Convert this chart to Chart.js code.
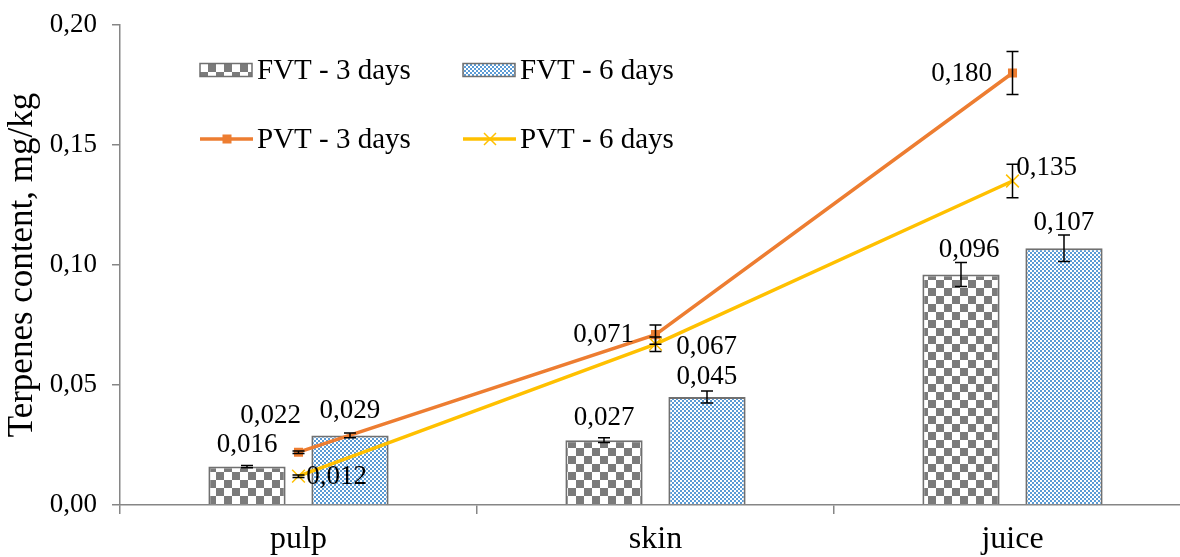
<!DOCTYPE html>
<html><head><meta charset="utf-8">
<script src="https://cdn.jsdelivr.net/npm/chart.js@4"></script>
<style>html,body{margin:0;padding:0;overflow:hidden;background:#fff;width:1180px;height:557px}#wrap{width:1180px;height:557px;overflow:hidden;position:relative}canvas{display:block}</style>
</head><body>
<div id="wrap"><canvas id="c" width="1191" height="557"></canvas></div>
<script>
const categories = ['pulp', 'skin', 'juice'];
const fvt3 = [0.016, 0.027, 0.096];
const fvt6 = [0.029, 0.045, 0.107];
const pvt3 = [0.022, 0.071, 0.180];
const pvt6 = [0.012, 0.067, 0.135];
const fvt3Err = [0.0005, 0.001, 0.005];
const fvt6Err = [0.001, 0.0025, 0.0055];
const pvt3Err = [0.0005, 0.004, 0.009];
const pvt6Err = [0.0005, 0.003, 0.007];
const yTicks = [0, 0.05, 0.10, 0.15, 0.20];
const seriesNames = ['FVT - 3 days', 'FVT - 6 days', 'PVT - 3 days', 'PVT - 6 days'];

const SERIF = '"Liberation Serif", "Times New Roman", serif';
const GREY = '#868686';

function tile(size, draw) { const c = document.createElement('canvas'); c.width = c.height = size; draw(c.getContext('2d')); return c; }
const canvas = document.getElementById('c');
const ctx0 = canvas.getContext('2d');
const greyPat = ctx0.createPattern(tile(16, g => { g.fillStyle = '#fff'; g.fillRect(0, 0, 16, 16); g.fillStyle = '#7b7b7b'; g.fillRect(0, 0, 8, 8); g.fillRect(8, 8, 8, 8); }), 'repeat');
const bluePat = ctx0.createPattern(tile(4, g => { g.fillStyle = '#5b9bd5'; g.fillRect(0, 0, 4, 4); g.fillStyle = '#fff'; g.fillRect(0, 0, 2, 2); g.fillRect(2, 2, 2, 2); }), 'repeat');

const fmt3 = v => v.toFixed(3).replace('.', ',');
const fmt2 = v => v.toFixed(2).replace('.', ',');

function drawMarker(ctx, style, x, y, color) {
  ctx.save();
  if (style === 'rect') { ctx.fillStyle = color; ctx.fillRect(x - 4.5, y - 4.5, 9, 9); }
  else { ctx.strokeStyle = color; ctx.lineWidth = 1.5; const r = 6; ctx.beginPath(); ctx.moveTo(x - r, y - r); ctx.lineTo(x + r, y + r); ctx.moveTo(x + r, y - r); ctx.lineTo(x - r, y + r); ctx.stroke(); }
  ctx.restore();
}

const errorBars = {
  id: 'errorBars',
  afterDatasetsDraw(chart) {
    const { ctx } = chart; const ys = chart.scales.y;
    ctx.save(); ctx.strokeStyle = '#000'; ctx.lineWidth = 1.5;
    chart.data.datasets.forEach((ds, di) => {
      const meta = chart.getDatasetMeta(di);
      ds.errors.forEach((e, i) => {
        const el = meta.data[i]; const v = ds.data[i];
        const t = ys.getPixelForValue(v + e), b = ys.getPixelForValue(v - e), x = el.x;
        ctx.beginPath();
        ctx.moveTo(x, t); ctx.lineTo(x, b);
        ctx.moveTo(x - 6, t); ctx.lineTo(x + 6, t);
        ctx.moveTo(x - 6, b); ctx.lineTo(x + 6, b);
        ctx.stroke();
      });
    });
    ctx.restore();
  }
};

const valueLabels = {
  id: 'valueLabels',
  afterDatasetsDraw(chart) {
    const { ctx } = chart;
    ctx.save(); ctx.font = '27px ' + SERIF; ctx.fillStyle = '#000'; ctx.textAlign = 'center'; ctx.textBaseline = 'middle';
    chart.data.datasets.forEach((ds, di) => {
      const meta = chart.getDatasetMeta(di);
      ds.data.forEach((v, i) => {
        const el = meta.data[i]; const o = ds.labelOffset[i];
        ctx.fillText(fmt3(v), el.x + o[0], el.y + o[1]);
      });
    });
    ctx.restore();
  }
};

const customLegend = {
  id: 'customLegend',
  afterDraw(chart) {
    const { ctx, chartArea } = chart;
    const L = chartArea.left, T = chartArea.top;
    const cols = [L + 80, L + 343], rows = [T + 45, T + 114];
    ctx.save(); ctx.font = '29px ' + SERIF; ctx.fillStyle = '#000'; ctx.textBaseline = 'middle'; ctx.textAlign = 'left';
    chart.data.datasets.forEach((ds, di) => {
      const x = cols[di % 2], y = rows[Math.floor(di / 2)];
      if (ds.type === 'line') {
        ctx.strokeStyle = ds.borderColor; ctx.lineWidth = 3.5;
        ctx.beginPath(); ctx.moveTo(x, y); ctx.lineTo(x + 53, y); ctx.stroke();
        drawMarker(ctx, ds.pointStyle, x + 27, y, ds.borderColor);
      } else {
        ctx.fillStyle = ds.backgroundColor; ctx.fillRect(x, y - 6.5, 52, 13);
        ctx.strokeStyle = ds.borderColor; ctx.lineWidth = 1.5; ctx.strokeRect(x, y - 6.5, 52, 13);
      }
      ctx.fillStyle = '#000';
      ctx.fillText(ds.label, x + 57, y + 1);
    });
    ctx.restore();
  }
};

new Chart(canvas, {
  type: 'bar',
  data: {
    labels: categories,
    datasets: [
      { label: seriesNames[0], data: fvt3, errors: fvt3Err, backgroundColor: greyPat, borderColor: '#707070', borderWidth: 2, order: 2,
        categoryPercentage: 0.577, barPercentage: 0.75, labelOffset: [[0, -22], [0, -22], [8, -25]] },
      { label: seriesNames[1], data: fvt6, errors: fvt6Err, backgroundColor: bluePat, borderColor: '#707070', borderWidth: 2, order: 2,
        categoryPercentage: 0.577, barPercentage: 0.75, labelOffset: [[0, -24], [0, -20], [0, -25]] },
      { type: 'line', label: seriesNames[2], data: pvt3, errors: pvt3Err, borderColor: '#ed7d31', backgroundColor: '#ed7d31', borderWidth: 3.5,
        pointStyle: 'rect', pointRadius: 6.4, pointBorderWidth: 0, order: 1, labelOffset: [[-28, -36], [-52, 0], [-51, 1]] },
      { type: 'line', label: seriesNames[3], data: pvt6, errors: pvt6Err, borderColor: '#ffc000', backgroundColor: '#ffc000', borderWidth: 3.5,
        pointStyle: 'crossRot', pointRadius: 9, pointBorderWidth: 1.5, order: 1, labelOffset: [[38, 1], [51, 3], [34, -13]] }
    ]
  },
  options: {
    responsive: false, animation: false, devicePixelRatio: 1,
    layout: { autoPadding: false, padding: { top: 25, left: 0, right: 0, bottom: 0 } },
    plugins: { legend: { display: false }, tooltip: { enabled: false } },
    scales: {
      x: {
        offset: true,
        grid: { offset: true, drawOnChartArea: false, drawTicks: true, tickLength: 9, color: GREY, lineWidth: 1.5 },
        border: { color: GREY, width: 1.5 },
        ticks: { color: '#000', font: { family: SERIF, size: 32 }, padding: 6 },
        afterFit: s => { s.height = 52; s.paddingLeft = 0; s.paddingRight = 0; }
      },
      y: {
        min: 0, max: 0.2,
        afterBuildTicks: s => { s.ticks = yTicks.map(v => ({ value: v })); },
        grid: { drawOnChartArea: false, drawTicks: true, tickLength: 8, color: GREY, lineWidth: 1.5 },
        border: { color: GREY, width: 1.5 },
        ticks: { color: '#000', font: { family: SERIF, size: 27 }, padding: 15, callback: v => fmt2(v) },
        title: { display: true, text: 'Terpenes content, mg/kg', color: '#000', font: { family: SERIF, size: 35 }, padding: { top: 2, bottom: 2 } },
        afterFit: s => { s.width = 120; s.paddingTop = 0; s.paddingBottom = 0; }
      }
    }
  },
  plugins: [errorBars, valueLabels, customLegend]
});
</script>
</body></html>
